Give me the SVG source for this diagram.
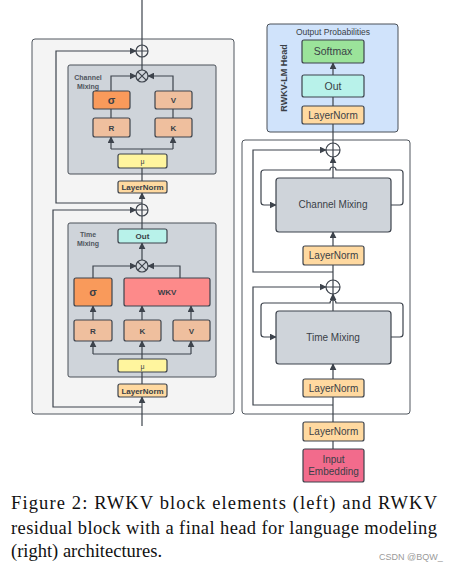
<svg xmlns="http://www.w3.org/2000/svg" width="457" height="570" viewBox="0 0 457 570">
<defs>
<marker id="arr" viewBox="0 0 10 10" refX="9" refY="5" markerWidth="7" markerHeight="7" markerUnits="userSpaceOnUse" orient="auto">
<path d="M0,0 L10,5 L0,10 z" fill="#3d434c"/>
</marker>
<style>
.panel{fill:#f4f4f4;stroke:#50565e;stroke-width:1}
.outer{fill:#ffffff;stroke:#50565e;stroke-width:1}
.grp{fill:#cfd4da;stroke:#4a5058;stroke-width:1}
.head{fill:#d0e3fb;stroke:#4a5058;stroke-width:1}
.box{stroke:#3d434c;stroke-width:1.2}
.sig{fill:#f99a5b}
.sal{fill:#efbf9e}
.ln{fill:#ffd9a0}
.mu{fill:#fff59e}
.out{fill:#b8f2ea}
.wkv{fill:#fd8a8a}
.soft{fill:#9be39a}
.emb{fill:#f26b8c}
.ln1{fill:none;stroke:#3d434c;stroke-width:1.2}
.op{fill:none;stroke:#3d434c;stroke-width:1.2}
.t{font-family:"Liberation Sans",Arial,sans-serif;fill:#3a3f47;text-anchor:middle}
.tb{font-weight:bold;font-size:8px}
.tr{font-size:10.5px}
.lab{font-family:"Liberation Sans",Arial,sans-serif;font-weight:bold;font-size:7px;fill:#50565e;text-anchor:middle}
.cap{font-family:"Liberation Serif","Times New Roman",serif;font-size:18.5px;fill:#111}
</style>
</defs>

<!-- Left panel -->
<g id="left-panel">
<rect class="panel" x="32" y="39" width="202" height="375" rx="3"/>
</g>
<g id="channel-mixing-left">
<rect class="grp" x="68" y="65" width="148" height="109" rx="2"/>
<text class="lab" x="88" y="80">Channel</text>
<text class="lab" x="88" y="89">Mixing</text>
</g>
<g id="time-mixing-left">
<rect class="grp" x="68" y="223" width="148" height="154" rx="2"/>
<text class="lab" x="88" y="237">Time</text>
<text class="lab" x="88" y="246">Mixing</text>
</g>

<!-- Right panel -->
<g id="head">
<rect class="head" x="267" y="24" width="131" height="108" rx="3"/>
<text class="t" x="333" y="35" font-size="8.5">Output Probabilities</text>
<text class="t" x="0" y="0" font-size="9" font-weight="bold" transform="translate(287,78) rotate(-90)">RWKV-LM Head</text>
</g>
<g id="right-block">
<rect class="outer" x="242" y="140" width="168" height="274" rx="3"/>
</g>

<!-- Connectors -->
<g id="connectors">
<!-- left -->
<line class="ln1" x1="142" y1="0" x2="142" y2="45"/>
<path class="ln1" d="M142,203 H56 V51 H136" marker-end="url(#arr)"/>
<line class="ln1" x1="142" y1="57" x2="142" y2="70"/>
<path class="ln1" d="M111,91 V76 H136" marker-end="url(#arr)"/>
<path class="ln1" d="M173,91 V76 H148" marker-end="url(#arr)"/>
<line class="ln1" x1="111" y1="109" x2="111" y2="118"/>
<line class="ln1" x1="173" y1="109" x2="173" y2="118"/>
<line class="ln1" x1="142" y1="154" x2="142" y2="149"/>
<line class="ln1" x1="111" y1="149" x2="173" y2="149"/>
<path class="ln1" d="M111,149 V137" marker-end="url(#arr)"/>
<path class="ln1" d="M173,149 V137" marker-end="url(#arr)"/>
<line class="ln1" x1="142" y1="181" x2="142" y2="168"/>
<path class="ln1" d="M142,204 V193" marker-end="url(#arr)"/>
<path class="ln1" d="M142,407 H53 V210 H136" marker-end="url(#arr)"/>
<line class="ln1" x1="142" y1="216" x2="142" y2="229"/>
<path class="ln1" d="M142,260 V243" marker-end="url(#arr)"/>
<path class="ln1" d="M93,278 V266 H136" marker-end="url(#arr)"/>
<path class="ln1" d="M180,278 V266 H148" marker-end="url(#arr)"/>
<path class="ln1" d="M93,320 V306" marker-end="url(#arr)"/>
<path class="ln1" d="M142,320 V306" marker-end="url(#arr)"/>
<path class="ln1" d="M191,320 V306" marker-end="url(#arr)"/>
<line class="ln1" x1="93" y1="354" x2="191" y2="354"/>
<path class="ln1" d="M93,354 V341" marker-end="url(#arr)"/>
<path class="ln1" d="M191,354 V341" marker-end="url(#arr)"/>
<path class="ln1" d="M142,359 V341" marker-end="url(#arr)"/>
<line class="ln1" x1="142" y1="384" x2="142" y2="372"/>
<path class="ln1" d="M142,426 V397" marker-end="url(#arr)"/>
<!-- right -->
<path class="ln1" d="M333,75 V63" marker-end="url(#arr)"/>
<line class="ln1" x1="333" y1="106" x2="333" y2="97"/>
<line class="ln1" x1="333" y1="143" x2="333" y2="124"/>
<path class="ln1" d="M333,272 H253 V150 H326" marker-end="url(#arr)"/>
<path class="ln1" d="M391,205 H400 Q403,205 403,202 V173 Q403,170 400,170 H336 A3,3 0 0 0 330,170 H264 Q261,170 261,173 V202 Q261,205 264,205 H276" marker-end="url(#arr)"/>
<path class="ln1" d="M333,178 V157" marker-end="url(#arr)"/>
<path class="ln1" d="M333,246 V232" marker-end="url(#arr)"/>
<line class="ln1" x1="333" y1="280" x2="333" y2="265"/>
<path class="ln1" d="M333,405 H253 V287 H326" marker-end="url(#arr)"/>
<path class="ln1" d="M391,337 H400 Q403,337 403,334 V306 Q403,303 400,303 H336 A3,3 0 0 0 330,303 H264 Q261,303 261,306 V334 Q261,337 264,337 H276" marker-end="url(#arr)"/>
<path class="ln1" d="M333,311 V294" marker-end="url(#arr)"/>
<path class="ln1" d="M333,379 V364" marker-end="url(#arr)"/>
<line class="ln1" x1="333" y1="397" x2="333" y2="422"/>
<line class="ln1" x1="333" y1="441" x2="333" y2="449"/>
</g>

<!-- Left nodes -->
<g id="add-top-left"><circle class="op" cx="142" cy="51" r="6"/><path class="op" d="M136,51 H148 M142,45 V57"/></g>
<g id="mul-cm"><circle class="op" cx="142" cy="76" r="6"/><path class="op" d="M137.8,71.8 L146.2,80.2 M146.2,71.8 L137.8,80.2"/></g>
<g id="cm-sigma"><rect class="box sig" x="93" y="91" width="37" height="18" rx="2"/><text class="t" x="111.5" y="104" font-size="11" font-weight="bold" fill="#222">σ</text></g>
<g id="cm-v"><rect class="box sal" x="155" y="91" width="37" height="18" rx="2"/><text class="t tb" x="173.5" y="103">V</text></g>
<g id="cm-r"><rect class="box sal" x="93" y="118" width="37" height="19" rx="2"/><text class="t tb" x="111.5" y="130.5">R</text></g>
<g id="cm-k"><rect class="box sal" x="155" y="118" width="37" height="19" rx="2"/><text class="t tb" x="173.5" y="130.5">K</text></g>
<g id="cm-mu"><rect class="box mu" x="118" y="154" width="49" height="14" rx="2"/><text class="t" x="142.5" y="164" font-size="7">μ</text></g>
<g id="cm-ln"><rect class="box ln" x="118" y="181" width="49" height="12" rx="2"/><text class="t tb" x="142.5" y="190">LayerNorm</text></g>
<g id="add-mid-left"><circle class="op" cx="142" cy="210" r="6"/><path class="op" d="M136,210 H148 M142,204 V216"/></g>
<g id="tm-out"><rect class="box out" x="118" y="229" width="49" height="14" rx="2"/><text class="t tb" x="142.5" y="239">Out</text></g>
<g id="mul-tm"><circle class="op" cx="142" cy="266" r="6"/><path class="op" d="M137.8,261.8 L146.2,270.2 M146.2,261.8 L137.8,270.2"/></g>
<g id="tm-sigma"><rect class="box sig" x="74" y="278" width="38" height="28" rx="2"/><text class="t" x="93" y="296" font-size="11" font-weight="bold" fill="#222">σ</text></g>
<g id="tm-wkv"><rect class="box wkv" x="124" y="278" width="86" height="28" rx="2"/><text class="t tb" x="167" y="295">WKV</text></g>
<g id="tm-r"><rect class="box sal" x="74" y="320" width="38" height="21" rx="2"/><text class="t tb" x="93" y="333.5">R</text></g>
<g id="tm-k"><rect class="box sal" x="124" y="320" width="37" height="21" rx="2"/><text class="t tb" x="142.5" y="333.5">K</text></g>
<g id="tm-v"><rect class="box sal" x="173" y="320" width="37" height="21" rx="2"/><text class="t tb" x="191.5" y="333.5">V</text></g>
<g id="tm-mu"><rect class="box mu" x="118" y="359" width="49" height="13" rx="2"/><text class="t" x="142.5" y="368.5" font-size="7">μ</text></g>
<g id="tm-ln"><rect class="box ln" x="118" y="384" width="49" height="13" rx="2"/><text class="t tb" x="142.5" y="393.5">LayerNorm</text></g>

<!-- Right nodes -->
<g id="softmax"><rect class="box soft" x="302" y="40" width="62" height="23" rx="2"/><text class="t tr" x="333" y="55">Softmax</text></g>
<g id="head-out"><rect class="box out" x="302" y="75" width="62" height="22" rx="2"/><text class="t tr" x="333" y="90">Out</text></g>
<g id="head-ln"><rect class="box ln" x="302" y="106" width="62" height="18" rx="2"/><text class="t" x="333" y="119" font-size="10">LayerNorm</text></g>
<g id="add-r1"><circle class="op" cx="333" cy="150" r="7"/><path class="op" d="M326,150 H340 M333,143 V157"/></g>
<g id="channel-mixing"><rect class="box grp" x="276" y="178" width="115" height="54" rx="3"/><text class="t" x="333" y="208" font-size="10">Channel Mixing</text></g>
<g id="ln-r1"><rect class="box ln" x="303" y="246" width="61" height="19" rx="2"/><text class="t" x="333.5" y="259" font-size="10">LayerNorm</text></g>
<g id="add-r2"><circle class="op" cx="333" cy="287" r="7"/><path class="op" d="M326,287 H340 M333,280 V294"/></g>
<g id="time-mixing"><rect class="box grp" x="276" y="311" width="115" height="53" rx="3"/><text class="t" x="333" y="341" font-size="10">Time Mixing</text></g>
<g id="ln-r2"><rect class="box ln" x="303" y="379" width="61" height="18" rx="2"/><text class="t" x="333.5" y="392" font-size="10">LayerNorm</text></g>
<g id="ln-r3"><rect class="box ln" x="303" y="422" width="61" height="19" rx="2"/><text class="t" x="333.5" y="435" font-size="10">LayerNorm</text></g>
<g id="input-embedding"><rect class="box emb" x="303" y="449" width="61" height="33" rx="2"/><text class="t" x="333.5" y="463" font-size="10">Input</text><text class="t" x="333.5" y="475" font-size="10">Embedding</text></g>

<!-- Caption -->
<g id="caption">
<text class="cap" x="11" y="509" textLength="426" lengthAdjust="spacing">Figure 2:  RWKV block elements (left) and RWKV</text>
<text class="cap" x="11" y="534" textLength="426" lengthAdjust="spacing">residual block with a final head for language modeling</text>
<text class="cap" x="11" y="557">(right) architectures.</text>
<text x="379" y="560" font-family="Liberation Sans,Arial,sans-serif" font-size="9" fill="#9a9a9a">CSDN @BQW_</text>
</g>
</svg>
